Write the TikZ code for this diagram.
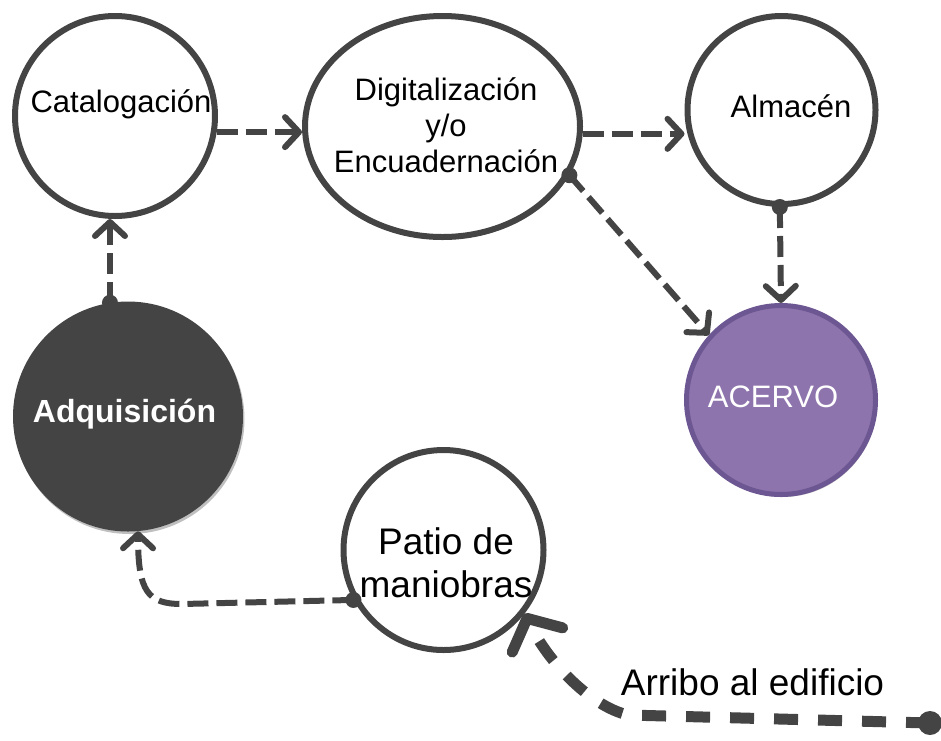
\documentclass[tikz,border=0pt]{standalone}
\usepackage{fontspec}
\setmainfont{Liberation Sans}
\usetikzlibrary{arrows.meta,shadows,shapes.geometric}
\definecolor{dk}{HTML}{444444}
\definecolor{pfill}{HTML}{8E74AD}
\definecolor{pborder}{HTML}{6D5792}
\begin{document}
\begin{tikzpicture}[x=1pt,y=-1pt,
  shd/.style={drop shadow={shadow xshift=1.5pt,shadow yshift=-2.5pt,opacity=.25,fill=black}},
  stage/.style={circle,draw=dk,line width=6pt,fill=white,inner sep=0pt,shd},
  lbl/.style={font=\fontsize{31}{36}\selectfont,inner sep=0pt,anchor=base},
  biglbl/.style={font=\fontsize{37}{43}\selectfont,inner sep=0pt},
  conn/.style={draw=dk,line width=6pt,dash pattern=on 21pt off 8pt,-{Straight Barb[round,length=14pt,width=30pt]}},
  bigconn/.style={draw=dk,line width=11pt,dash pattern=on 24pt off 20pt,-{Straight Barb[round,length=24pt,width=56pt]}},
  dot/.style={fill=dk}]
\useasboundingbox (0,0) rectangle (941,740);

% stages
\node[stage,minimum size=200pt] (cat) at (115,116) {};
\node[stage,ellipse,minimum width=275pt,minimum height=221pt] (dig) at (442.5,126.5) {};
\node[stage,minimum size=188pt] (alm) at (781.5,110) {};
\node[circle,draw=pborder,fill=pfill,line width=5pt,inner sep=0pt,minimum size=189pt,shd] (acv) at (781,400) {};
\node[circle,fill=dk,inner sep=0pt,minimum size=230pt,shd] (adq) at (128,416.5) {};
\node[stage,minimum size=200pt] (pat) at (443.5,550) {};

% texts
\node[lbl] (catT) at (121,112) {Catalogación};
\node[font=\fontsize{31}{36}\selectfont,inner sep=0pt,align=center] (digT) at (446,125) {Digitalización\\y/o\\Encuadernación};
\node[lbl] (almT) at (791,117) {Almacén};
\node[lbl,text=white] (acvT) at (773,407) {ACERVO};
\node[lbl,text=white,font=\fontsize{32}{36}\selectfont\bfseries] (adqT) at (124.5,422) {Adquisición};
\node[biglbl,align=center] (patT) at (446,563) {Patio de\\maniobras};
\node[biglbl,anchor=base] (arrT) at (752.5,695) {Arribo al edificio};

% connectors
\draw[conn] (cat.-9) -- (cat.-9 -| dig.west);
\draw[conn] (dig.-3) -- (dig.-3 -| alm.west);
\fill[dot] (dig.-21) circle[radius=8pt];
\draw[conn] (dig.-21) -- (acv.138);
\fill[dot] (alm.-91) circle[radius=8pt];
\draw[conn] (alm.-91) -- (acv.north);
\fill[dot] (adq.99) circle[radius=8pt];
\draw[conn] (adq.99) -- (adq.99 |- cat.south);
\fill[dot] (pat.209) circle[radius=8pt];
\draw[conn] (pat.209) -- (182,604) .. controls (148,604) and (138,592) .. (adq.-85);
\coordinate (start) at (930,723);
\fill[dot] (start) circle[radius=12pt];
\draw[bigconn] (start) -- (628,715) .. controls (590,706) and (548,662) .. (pat.-38);
\end{tikzpicture}
\end{document}
